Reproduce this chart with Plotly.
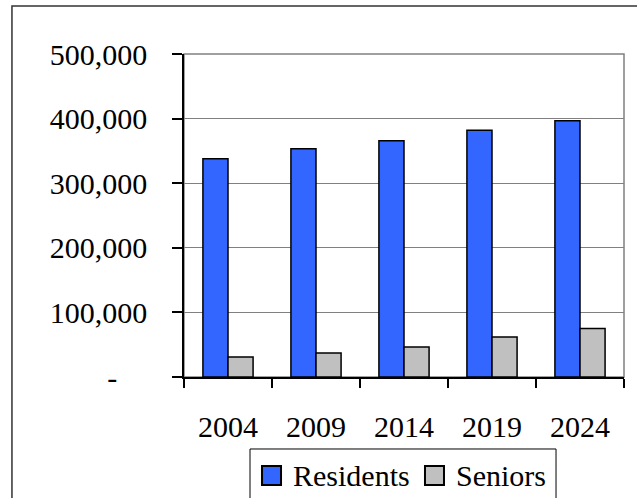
import plotly.graph_objects as go

years = ["2004", "2009", "2014", "2019", "2024"]
residents = [337800, 353300, 365700, 381800, 396700]
seniors = [31000, 37200, 46500, 62000, 75000]
series_names = ["Residents", "Seniors"]
series_colors = ["#3366FF", "#C0C0C0"]
y_tick_vals = [0, 100000, 200000, 300000, 400000, 500000]
y_tick_text = ["-\u00a0\u00a0\u00a0\u00a0", "100,000", "200,000", "300,000", "400,000", "500,000"]

FONT = "Liberation Serif"

fig = go.Figure()
for name, vals, col in zip(series_names, [residents, seniors], series_colors):
    fig.add_trace(go.Bar(x=years, y=vals, name=name,
                         marker=dict(color=col, line=dict(color="black", width=1.5))))

# legend drawn as decoration (paper coordinates) so it can overflow the bottom like the original
legend_square_x = [(0.1773, 0.2205), (0.5477, 0.5909)]
legend_text_x = [0.2432, 0.6136]
shapes = [
    dict(type="rect", xref="paper", yref="paper", x0=0, x1=1, y0=0, y1=1,
         line=dict(color="#808080", width=1.5), layer="below"),
    dict(type="rect", xref="paper", yref="paper", x0=-0.391, x1=1.2, y0=-0.5, y1=1.1486,
         line=dict(color="#333333", width=1.5), fillcolor="rgba(0,0,0,0)", layer="below"),
    dict(type="rect", xref="paper", yref="paper", x0=0.15, x1=0.8455, y0=-0.5, y1=-0.2229,
         line=dict(color="black", width=1), fillcolor="white", layer="above"),
]
annotations = []
for (sx0, sx1), tx, name, col in zip(legend_square_x, legend_text_x, series_names, series_colors):
    shapes.append(dict(type="rect", xref="paper", yref="paper", x0=sx0, x1=sx1,
                       y0=-0.3344, y1=-0.2755, fillcolor=col,
                       line=dict(color="black", width=2), layer="above"))
    annotations.append(dict(text=name, xref="paper", yref="paper", x=tx, y=-0.3065,
                            xanchor="left", yanchor="middle", showarrow=False,
                            font=dict(family=FONT, size=30, color="black")))

fig.update_layout(
    width=637, height=498,
    margin=dict(l=184, r=13, t=54, b=121),
    paper_bgcolor="white", plot_bgcolor="white",
    font=dict(family=FONT, size=30, color="black"),
    barmode="group", bargap=0.43, bargroupgap=0,
    showlegend=False,
    xaxis=dict(type="category", showline=True, linecolor="black", linewidth=1.5,
               ticks="outside", tickson="boundaries", ticklen=9, tickcolor="black",
               tickwidth=1.5, showgrid=False, ticklabelstandoff=22,
               tickfont=dict(size=30, family=FONT)),
    yaxis=dict(range=[0, 500000], tickvals=y_tick_vals, ticktext=y_tick_text,
               showline=True, linecolor="black", linewidth=1.5,
               ticks="outside", ticklen=10, tickcolor="black", tickwidth=1.5,
               showgrid=True, gridcolor="#808080", gridwidth=1, zeroline=False,
               ticklabelstandoff=19, tickfont=dict(size=30, family=FONT)),
    shapes=shapes,
    annotations=annotations,
)

fig.write_html("out.html")
